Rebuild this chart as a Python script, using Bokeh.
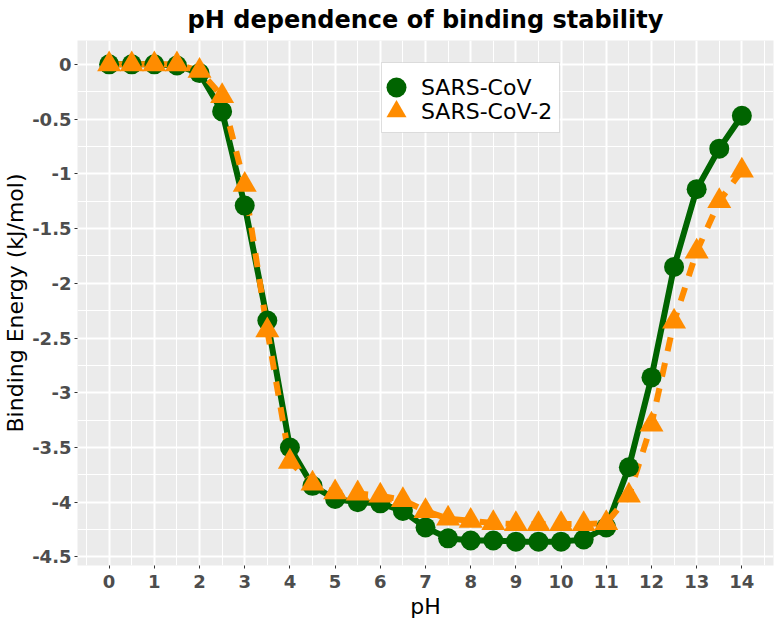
from bokeh.plotting import figure
from bokeh.models import Range1d, FixedTicker, Legend, LegendItem, BoxAnnotation
from bokeh.embed import file_html
from bokeh.resources import INLINE

# ---- data ----
ph = [0, 0.5, 1, 1.5, 2, 2.5, 3, 3.5, 4, 4.5, 5, 5.5, 6, 6.5, 7, 7.5,
      8, 8.5, 9, 9.5, 10, 10.5, 11, 11.5, 12, 12.5, 13, 13.5, 14]
sars_cov = [0.0, 0.0, 0.0, -0.01, -0.08, -0.43, -1.29, -2.34, -3.50, -3.85,
            -3.97, -4.00, -4.01, -4.08, -4.23, -4.33, -4.35, -4.35, -4.36,
            -4.36, -4.36, -4.34, -4.23, -3.68, -2.86, -1.85, -1.14, -0.77, -0.47]
sars_cov2 = [0.0, 0.0, 0.0, 0.0, -0.06, -0.29, -1.10, -2.43, -3.63, -3.83,
             -3.91, -3.92, -3.94, -3.98, -4.08, -4.15, -4.17, -4.19, -4.20,
             -4.20, -4.20, -4.20, -4.19, -3.94, -3.29, -2.35, -1.71, -1.25, -0.97]
series_names = ["SARS-CoV", "SARS-CoV-2"]

x_ticks = [0, 1, 2, 3, 4, 5, 6, 7, 8, 9, 10, 11, 12, 13, 14]
x_tick_labels = ["0", "1", "2", "3", "4", "5", "6", "7", "8", "9", "10",
                 "11", "12", "13", "14"]
y_ticks = [0, -0.5, -1, -1.5, -2, -2.5, -3, -3.5, -4, -4.5]
y_tick_labels = ["0", "-0.5", "-1", "-1.5", "-2", "-2.5", "-3", "-3.5", "-4", "-4.5"]

title_text = "pH dependence of binding stability"
x_label = "pH"
y_label = "Binding Energy (kJ/mol)"

# ---- styling ----
GREEN = "#006400"
ORANGE = "#FF8C00"
FONT = "DejaVu Sans"

xmin, xmax = min(ph), max(ph)
ymin = min(min(sars_cov), min(sars_cov2))
ymax = max(max(sars_cov), max(sars_cov2))
xpad = 0.05 * (xmax - xmin)
ypad = 0.05 * (ymax - ymin)

p = figure(width=780, height=626, output_backend="svg", toolbar_location=None,
           x_range=Range1d(xmin - xpad, xmax + xpad),
           y_range=Range1d(ymin - ypad, ymax + ypad),
           min_border_left=0, min_border_right=7,
           min_border_top=40, min_border_bottom=61)

p.title.text = title_text
p.title.text_font = FONT
p.title.text_font_size = "24px"
p.title.text_font_style = "bold"
p.title.text_color = "black"
p.title.align = "center"
p.title.vertical_align = "top"
p.title.standoff = 10

p.background_fill_color = "#EBEBEB"
p.border_fill_color = "white"
p.outline_line_color = None

# grid
x_minor = [x_ticks[0] - 0.5] + [t + 0.5 for t in x_ticks]
y_minor = [t - 0.25 for t in y_ticks]
p.xgrid.ticker = FixedTicker(ticks=x_ticks, minor_ticks=x_minor)
p.ygrid.ticker = FixedTicker(ticks=y_ticks, minor_ticks=y_minor)
for g in (p.xgrid, p.ygrid):
    g.grid_line_color = "white"
    g.grid_line_width = 2
    g.minor_grid_line_color = "white"
    g.minor_grid_line_width = 1

# axes
p.xaxis.ticker = FixedTicker(ticks=x_ticks)
p.yaxis.ticker = FixedTicker(ticks=y_ticks)
p.xaxis.major_label_overrides = dict(zip(x_ticks, x_tick_labels))
p.yaxis.major_label_overrides = dict(zip(y_ticks, y_tick_labels))
p.xaxis.axis_label = x_label
p.yaxis.axis_label = y_label
for ax in (p.xaxis, p.yaxis):
    ax.axis_line_color = None
    ax.major_tick_line_color = "#333333"
    ax.major_tick_line_width = 1
    ax.major_tick_out = 3
    ax.major_tick_in = 0
    ax.minor_tick_line_color = None
    ax.major_label_text_font = FONT
    ax.major_label_text_font_size = "18px"
    ax.major_label_text_font_style = "bold"
    ax.major_label_text_color = "#4D4D4D"
    ax.axis_label_text_font = FONT
    ax.axis_label_text_font_size = "22px"
    ax.axis_label_text_font_style = "normal"
    ax.axis_label_text_color = "black"
    ax.axis_label_text_line_height = 1.0
p.xaxis.major_label_standoff = 6
p.xaxis.axis_label_standoff = 3
p.yaxis.major_label_standoff = 3
p.yaxis.axis_label_standoff = 1

# data
p.line(ph, sars_cov, line_color=GREEN, line_width=6)
p.line(ph, sars_cov2, line_color=ORANGE, line_width=6, line_dash="14 12")
r1 = p.scatter(ph, sars_cov, marker="circle", size=20,
               fill_color=GREEN, line_color=None)
r2 = p.scatter(ph, sars_cov2, marker="triangle", size=24,
               fill_color=ORANGE, line_color=None)

# legend: white box + one legend per row
box = BoxAnnotation(left=381, right=559, top=62, bottom=132,
                    left_units="canvas", right_units="canvas",
                    top_units="canvas", bottom_units="canvas",
                    fill_color="white", fill_alpha=1,
                    line_color="#A0A0A0", line_width=1)
p.add_layout(box)

legend_style = dict(orientation="vertical", glyph_width=50, glyph_height=50,
                    padding=0, spacing=0, label_standoff=0, margin=0,
                    label_text_font=FONT, label_text_font_size="22px",
                    label_text_color="black", border_line_color=None,
                    background_fill_alpha=0)
leg1 = Legend(items=[LegendItem(label=series_names[0], renderers=[r1])],
              location=(294, 453), **legend_style)
leg2 = Legend(items=[LegendItem(label=series_names[1], renderers=[r2])],
              location=(294, 429), **legend_style)
p.add_layout(leg1)
p.add_layout(leg2)

open("out.html", "w").write(file_html(p, INLINE))
